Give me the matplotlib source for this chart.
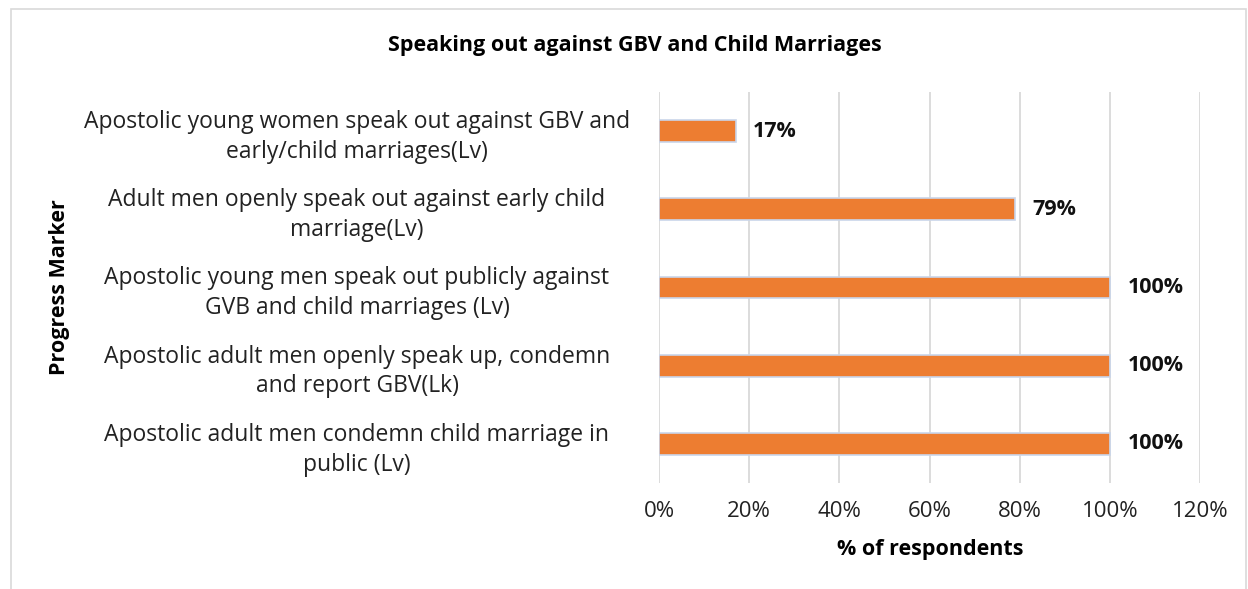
import matplotlib
matplotlib.use("Agg")
import matplotlib.pyplot as plt
from matplotlib.patches import Rectangle

categories = [
    "Apostolic young women speak out against GBV and\nearly/child marriages(Lv)",
    "Adult men openly speak out against early child\nmarriage(Lv)",
    "Apostolic young men speak out publicly against\nGVB and child marriages (Lv)",
    "Apostolic adult men openly speak up, condemn\nand report GBV(Lk)",
    "Apostolic adult men condemn child marriage in\npublic (Lv)",
]
values = [17, 79, 100, 100, 100]
xticks = [0, 20, 40, 60, 80, 100, 120]
xtick_labels = ["0%", "20%", "40%", "60%", "80%", "100%", "120%"]

plt.rcParams['font.family'] = ['Open Sans', 'DejaVu Sans']

fig = plt.figure(figsize=(12.48, 5.89), dpi=100)
W, H = 1248, 589
ax = fig.add_axes([659 / W, 1 - 483 / H, (1200 - 659) / W, (483 - 92) / H])

ypos = list(range(len(categories)))
ax.barh(ypos, values, height=0.28, color="#ED7D31", edgecolor="#C9D5EA", linewidth=1.2, zorder=3)
for y, v in zip(ypos, values):
    ax.text(v + 3.9, y, f"{v}%", va="center", ha="left", fontsize=15.5, fontweight="bold", color="#111111")

ax.set_ylim(len(categories) - 0.5, -0.5)
ax.set_xlim(0, 120)
ax.set_xticks(xticks)
ax.set_xticklabels(xtick_labels, fontsize=16, color="#222222")
ax.set_yticks(ypos)
ax.set_yticklabels(categories, fontsize=16.5, color="#222222", linespacing=1.32)
ax.tick_params(axis="y", length=0, pad=302 * 0.72)
ax.tick_params(axis="x", length=0, pad=13)
for lbl in ax.get_yticklabels():
    lbl.set_horizontalalignment("center")
ax.grid(axis="x", color="#D9D9D9", linewidth=1.3, zorder=0)
for s in ax.spines.values():
    s.set_visible(False)

fig.text(930 / W, 1 - 549 / H, "% of respondents", fontsize=15.5, fontweight="bold",
         ha="center", va="center")
fig.text(60 / W, 1 - 287 / H, "Progress Marker", rotation=90, fontsize=15.5, fontweight="bold",
         ha="center", va="center")
fig.text(635 / W, 1 - 46 / H, "Speaking out against GBV and Child Marriages", fontsize=15.5,
         fontweight="bold", ha="center", va="center")

fig.patches.append(Rectangle((11 / W, -0.05), (1246 - 11) / W, 1 - 9 / H + 0.05,
                             transform=fig.transFigure, fill=False, edgecolor="#D9D9D9", linewidth=1.2))

fig.savefig("out.png", dpi=100, facecolor="white")
